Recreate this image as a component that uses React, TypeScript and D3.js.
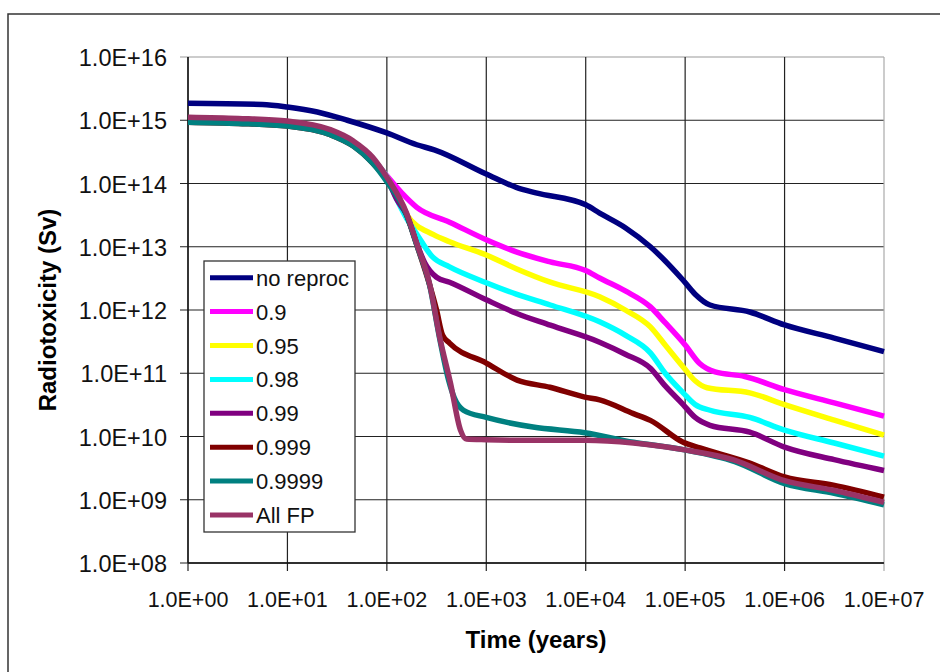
import React from "react";
import * as d3 from "d3";

const xTicks = [1e0, 1e1, 1e2, 1e3, 1e4, 1e5, 1e6, 1e7];
const yTicks = [1e8, 1e9, 1e10, 1e11, 1e12, 1e13, 1e14, 1e15, 1e16];

const seriesNames = ["no reproc", "0.9", "0.95", "0.98", "0.99", "0.999", "0.9999", "All FP"];
const seriesColors = ["#000080", "#FF00FF", "#FFFF00", "#00FFFF", "#800080", "#800000", "#008080", "#993366"];

const noReprocTime = [1, 5.6, 10, 20, 40, 100, 200, 300, 1000, 2000, 3160, 10000, 13800, 25000, 44700, 95500, 126000, 178000, 447000, 1e6, 3.16e6, 1e7];
const noReprocValue = [1.86e15, 1.78e15, 1.62e15, 1.35e15, 1.0e15, 6.3e14, 4.1e14, 3.4e14, 1.41e14, 8.7e13, 7.1e13, 4.6e13, 3.4e13, 2.0e13, 1.0e13, 2.95e12, 1.78e12, 1.2e12, 9.3e11, 5.8e11, 3.6e11, 2.2e11];

const r90Time = [1, 3.2, 10, 27, 46, 72, 100, 141, 200, 427, 1000, 2000, 4400, 10000, 13800, 25000, 44700, 63000, 100000, 141000, 200000, 398000, 1e6, 3.16e6, 1e7];
const r90Value = [1.05e15, 1.0e15, 9.1e14, 6.6e14, 4.4e14, 2.4e14, 1.32e14, 7.1e13, 4.2e13, 2.45e13, 1.29e13, 8.3e12, 5.75e12, 4.2e12, 3.2e12, 2.0e12, 1.12e12, 6.3e11, 2.8e11, 1.41e11, 1.05e11, 8.9e10, 5.5e10, 3.4e10, 2.1e10];

const r95Time = [1, 3.2, 10, 27, 46, 72, 100, 126, 158, 295, 427, 1000, 2000, 4400, 13800, 25000, 44700, 63000, 95500, 126000, 166000, 447000, 1e6, 3.16e6, 1e7];
const r95Value = [1.05e15, 1.0e15, 9.1e14, 6.6e14, 4.4e14, 2.4e14, 1.26e14, 6.3e13, 3.2e13, 1.55e13, 1.2e13, 7.4e12, 4.5e12, 2.75e12, 1.62e12, 1.0e12, 5.4e11, 2.8e11, 1.26e11, 7.6e10, 5.9e10, 4.9e10, 3.2e10, 1.82e10, 1.05e10];

const r98Time = [1, 3.2, 10, 27, 46, 72, 100, 126, 158, 200, 288, 427, 1000, 2000, 4400, 13800, 25000, 44700, 63000, 95500, 126000, 178000, 447000, 1e6, 3.16e6, 1e7];
const r98Value = [1.05e15, 1.0e15, 9.1e14, 6.6e14, 4.4e14, 2.4e14, 1.26e14, 5.6e13, 2.8e13, 1.58e13, 6.9e12, 4.8e12, 2.7e12, 1.78e12, 1.2e12, 6.5e11, 4.0e11, 2.1e11, 1.0e11, 4.9e10, 3.2e10, 2.6e10, 2.0e10, 1.26e10, 7.9e9, 4.9e9];

const r99Time = [1, 3.2, 10, 27, 46, 72, 100, 126, 158, 200, 240, 316, 427, 1000, 2000, 4400, 13800, 25000, 44700, 63000, 95500, 126000, 178000, 447000, 1e6, 3.16e6, 1e7];
const r99Value = [1.05e15, 1.0e15, 9.1e14, 6.6e14, 4.4e14, 2.4e14, 1.2e14, 5.6e13, 3.2e13, 1.12e13, 5.6e12, 3.3e12, 2.75e12, 1.45e12, 8.9e11, 5.75e11, 3.1e11, 2.0e11, 1.2e11, 6.3e10, 3.2e10, 2.0e10, 1.5e10, 1.17e10, 6.8e9, 4.3e9, 2.9e9];

const r999Time = [1, 3.2, 10, 27, 46, 72, 100, 158, 200, 269, 316, 363, 427, 1000, 2040, 4370, 9800, 13800, 30200, 44700, 95500, 141000, 447000, 1e6, 3.09e6, 1e7];
const r999Value = [9.3e14, 8.9e14, 8.1e14, 5.9e14, 3.9e14, 2.1e14, 1.15e14, 3.2e13, 1.07e13, 2.5e12, 1.0e12, 4.0e11, 3.0e11, 1.45e11, 7.8e10, 6.0e10, 4.2e10, 3.8e10, 2.3e10, 1.8e10, 8.1e9, 6.6e9, 3.8e9, 2.3e9, 1.7e9, 1.1e9];

const r9999Time = [1, 3.2, 10, 27, 46, 72, 100, 158, 200, 269, 339, 417, 479, 589, 1000, 2950, 9800, 30200, 95500, 316000, 1e6, 3.16e6, 1e7];
const r9999Value = [9.3e14, 8.9e14, 8.1e14, 5.9e14, 3.9e14, 2.1e14, 1.07e14, 3.2e13, 1.07e13, 2.5e12, 3.6e11, 7.9e10, 4.0e10, 2.6e10, 2.0e10, 1.41e10, 1.15e10, 8.1e9, 6.2e9, 4.0e9, 1.8e9, 1.26e9, 8.3e8];

const allFpTime = [1, 3.2, 10, 27, 46, 72, 100, 158, 200, 269, 339, 437, 550, 631, 1000, 3160, 10000, 30200, 95500, 302000, 1e6, 3.09e6, 1e7];
const allFpValue = [1.12e15, 1.07e15, 9.7e14, 7.1e14, 4.7e14, 2.6e14, 1.26e14, 3.4e13, 1.12e13, 2.6e12, 3.8e11, 6.9e10, 1.26e10, 9.1e9, 8.9e9, 8.7e9, 8.7e9, 7.9e9, 6.2e9, 4.3e9, 2.0e9, 1.41e9, 9.1e8];

const seriesTimes = [noReprocTime, r90Time, r95Time, r98Time, r99Time, r999Time, r9999Time, allFpTime];
const seriesValues = [noReprocValue, r90Value, r95Value, r98Value, r99Value, r999Value, r9999Value, allFpValue];

const W = 940;
const H = 672;
const M = { left: 188, right: 884, top: 57, bottom: 563 };
const FONT = "'Liberation Sans', Arial, sans-serif";

const fmt = (v: number) => {
  const e = Math.round(Math.log10(v));
  return `1.0E+${String(e).padStart(2, "0")}`;
};

export default function App() {
  const x = d3.scaleLog().domain([1, 1e7]).range([M.left, M.right]);
  const y = d3.scaleLog().domain([1e8, 1e16]).range([M.bottom, M.top]);
  const line = d3
    .line<[number, number]>()
    .x((d) => x(d[0]))
    .y((d) => y(d[1]))
    .curve(d3.curveMonotoneX);

  const legendX = 204;
  const legendY = 261;
  const legendW = 151;
  const legendH = 271;
  const rowH = 33.9;

  return (
    <svg
      width={W}
      height={H}
      style={{ position: "absolute", left: 0, top: 0, background: "#fff" }}
      fontFamily={FONT}
    >
      <rect x={0} y={0} width={W} height={H} fill="#fff" />
      <rect x={8} y={14} width={W + 20} height={H + 20} fill="none" stroke="#333" strokeWidth={1.5} />

      {/* gridlines */}
      {yTicks.map((t, i) => (
        <line
          key={"gy" + i}
          x1={M.left - 8}
          x2={M.right}
          y1={y(t)}
          y2={y(t)}
          stroke={i === yTicks.length - 1 ? "#999" : "#222"}
          strokeWidth={1.2}
        />
      ))}
      {xTicks.map((t, i) => (
        <line
          key={"gx" + i}
          x1={x(t)}
          x2={x(t)}
          y1={M.top}
          y2={M.bottom + 8}
          stroke={i === xTicks.length - 1 ? "#aaa" : "#222"}
          strokeWidth={1.2}
        />
      ))}
      <line x1={M.left} x2={M.left} y1={M.top} y2={M.bottom} stroke="#111" strokeWidth={1.3} />
      <line x1={M.left} x2={M.right} y1={M.bottom} y2={M.bottom} stroke="#111" strokeWidth={1.3} />

      {/* tick labels */}
      {yTicks.map((t, i) => (
        <text key={"yl" + i} x={167} y={y(t) + 9} textAnchor="end" fontSize={23.5} fill="#111">
          {fmt(t)}
        </text>
      ))}
      {xTicks.map((t, i) => (
        <text key={"xl" + i} x={x(t)} y={606.5} textAnchor="middle" fontSize={21.5} fill="#111">
          {fmt(t)}
        </text>
      ))}

      {/* axis titles */}
      <text x={536} y={648} textAnchor="middle" fontSize={24} fontWeight="bold" fill="#000">
        Time (years)
      </text>
      <text
        transform={`translate(56, ${(M.top + M.bottom) / 2}) rotate(-90)`}
        textAnchor="middle"
        fontSize={24}
        fontWeight="bold"
        fill="#000"
      >
        Radiotoxicity (Sv)
      </text>

      {/* series */}
      <defs>
        <clipPath id="plotclip">
          <rect x={M.left} y={M.top} width={M.right - M.left + 3} height={M.bottom - M.top} />
        </clipPath>
      </defs>
      <g clipPath="url(#plotclip)">
        {seriesTimes.map((ts, i) => (
          <path
            key={"s" + i}
            d={line(ts.map((t, j) => [t, seriesValues[i][j]]) as [number, number][]) || ""}
            fill="none"
            stroke={seriesColors[i]}
            strokeWidth={5.5}
            strokeLinejoin="round"
          />
        ))}
      </g>

      {/* legend */}
      <rect x={legendX} y={legendY} width={legendW} height={legendH} fill="#fff" stroke="#333" strokeWidth={1.3} />
      {seriesNames.map((n, i) => {
        const cy = legendY + 16.7 + i * rowH;
        return (
          <g key={"lg" + i}>
            <line x1={210} x2={253} y1={cy} y2={cy} stroke={seriesColors[i]} strokeWidth={5} />
            <text x={256} y={cy + 8} fontSize={22} fill="#111">
              {n}
            </text>
          </g>
        );
      })}
    </svg>
  );
}
